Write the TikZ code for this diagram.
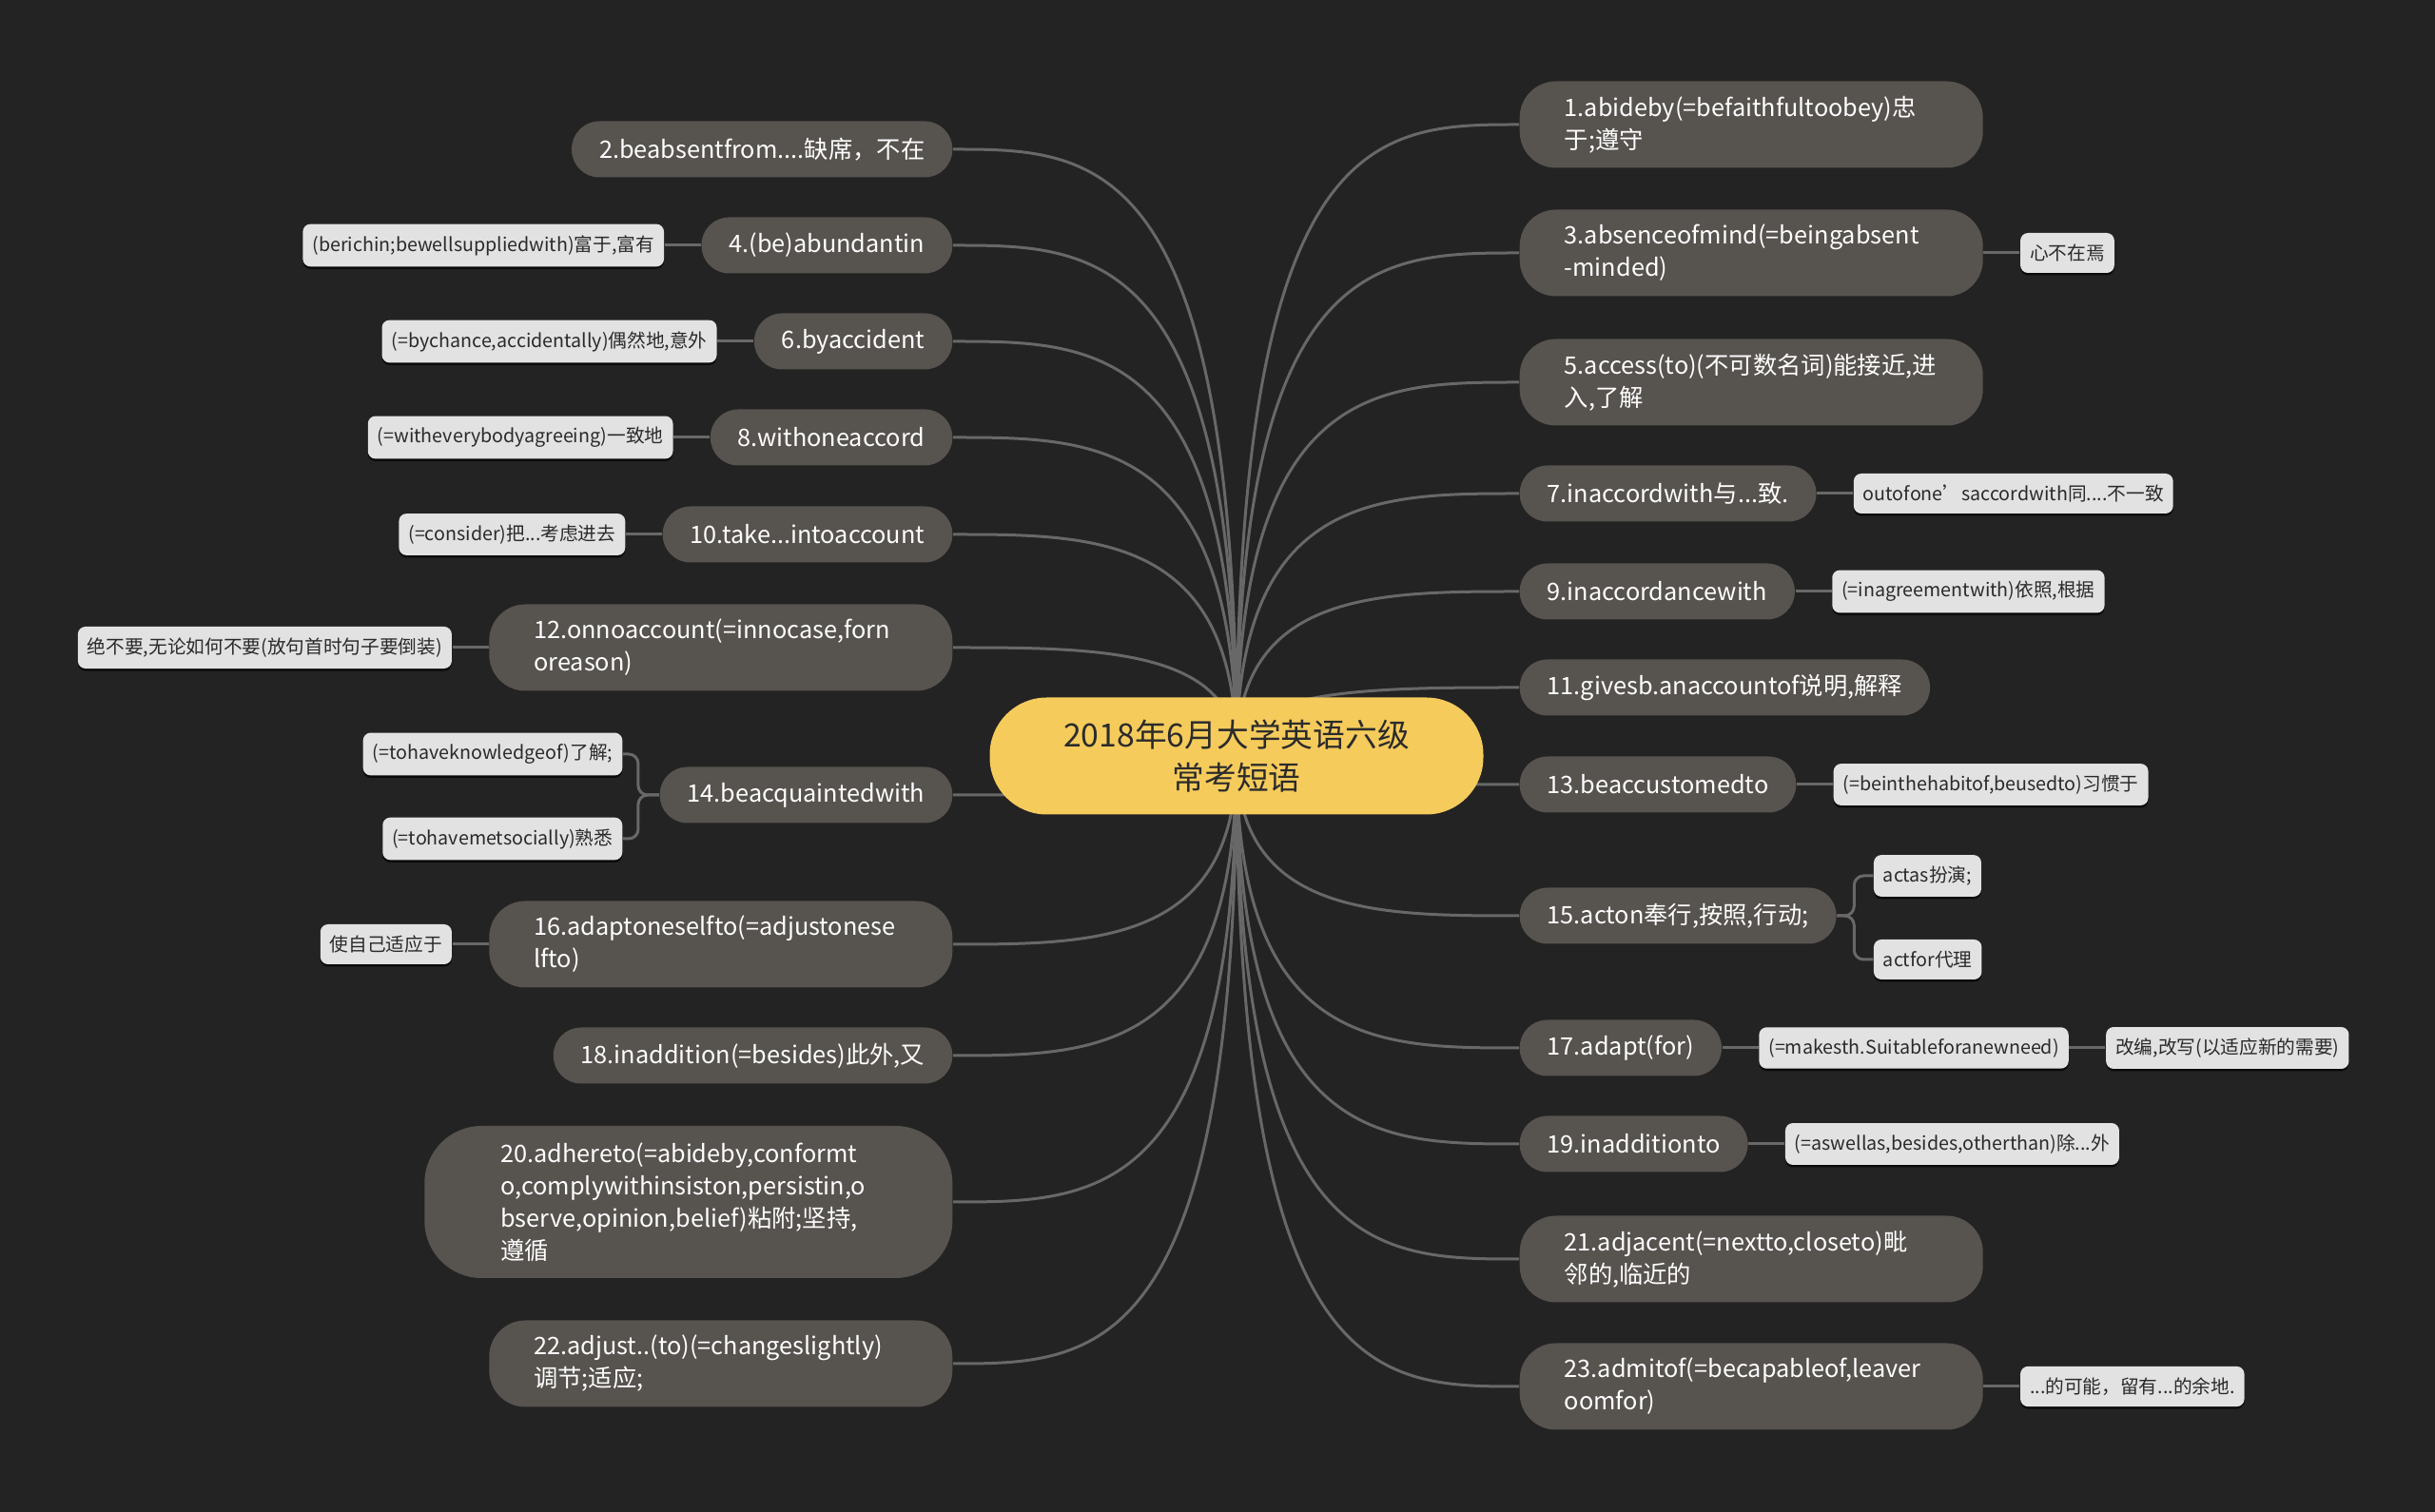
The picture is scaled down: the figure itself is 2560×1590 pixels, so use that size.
\documentclass[tikz,border=0pt]{standalone}
\usepackage{fontspec}
\setmainfont{Noto Sans CJK SC}
\usetikzlibrary{
    positioning,
    calc,
    shadows
}
\definecolor{MapBack}{HTML}{232323}
\definecolor{HubGold}{HTML}{F5CB5C}
\definecolor{HubInk}{HTML}{2B2B2B}
\definecolor{PhraseGray}{HTML}{57534F}
\definecolor{GlossGray}{HTML}{E2E2E2}
\definecolor{GlossInk}{HTML}{2A2A2A}
\definecolor{LinkGray}{HTML}{686868}
\pgfdeclarelayer{backdrop}
\pgfdeclarelayer{links}
\pgfsetlayers{backdrop,links,main}
\tikzset{
  hub/.style        = {fill=HubGold, text=HubInk, rounded corners=6mm,
                       minimum width=51.9mm, minimum height=12.3mm, align=center,
                       font=\fontsize{9.6pt}{13pt}\selectfont},
  phrase/.style     = {fill=PhraseGray, text=white, rounded corners=2.9mm,
                       minimum height=5.9mm, inner xsep=2.9mm,
                       font=\fontsize{7.2pt}{9.7pt}\selectfont},
  longphrase/.style = {phrase, rounded corners=3.8mm, minimum height=9.1mm,
                       inner xsep=4.7mm, text width=39.3mm, align=left},
  gloss/.style      = {fill=GlossGray, text=GlossInk, rounded corners=0.8mm,
                       minimum height=4.2mm, inner xsep=1mm,
                       drop shadow={shadow xshift=0mm, shadow yshift=-0.25mm,
                                    fill=black, opacity=0.7},
                       font=\fontsize{5.6pt}{6.5pt}\selectfont},
  spoke/.style      = {draw=LinkGray, line width=0.3mm,
                       to path={.. controls (\tikztostart |- \tikztotarget)
                         and ($(\tikztostart |- \tikztotarget)!0.5!(\tikztotarget)$)
                         .. (\tikztotarget)}},
  twig/.style       = {draw=LinkGray, line width=0.3mm, rounded corners=1mm}
}

\begin{document}
\begin{tikzpicture}[x=0.1mm, y=-0.1mm, node distance=3.8mm]
\begin{pgfonlayer}{backdrop}
\fill[MapBack] (0,0) rectangle (2560,1590);
\end{pgfonlayer}
\useasboundingbox (0,0) rectangle (2560,1590);

% centre
\node[hub] (hub) at (1300,795) {2018年6月大学英语六级\\常考短语};

% left side
\node[phrase, anchor=east] (p2) at (1002,157) {2.beabsentfrom....缺席，不在};
\node[phrase, anchor=east] (p4) at (1002,258) {4.(be)abundantin};
\node[phrase, anchor=east] (p6) at (1002,359) {6.byaccident};
\node[phrase, anchor=east] (p8) at (1002,460) {8.withoneaccord};
\node[phrase, anchor=east] (p10) at (1002,562) {10.take...intoaccount};
\node[longphrase, anchor=east] (p12) at (1002,681) {12.onnoaccount(=innocase,forn\\oreason)};
\node[phrase, anchor=east] (p14) at (1002,836) {14.beacquaintedwith};
\node[longphrase, anchor=east] (p16) at (1002,993) {16.adaptoneselfto(=adjustonese\\lfto)};
\node[phrase, anchor=east] (p18) at (1002,1110) {18.inaddition(=besides)此外,又};
\node[longphrase, anchor=east, rounded corners=6mm, minimum height=16mm, inner xsep=8mm, text width=39.5mm]
    (p20) at (1002,1264) {20.adhereto(=abideby,conformt\\o,complywithinsiston,persistin,o\\bserve,opinion,belief)粘附;坚持,\\遵循};
\node[longphrase, anchor=east] (p22) at (1002,1434) {22.adjust..(to)(=changeslightly)\\调节;适应;};

\node[gloss, left=of p4] (g4) {(berichin;bewellsuppliedwith)富于,富有};
\node[gloss, left=of p6] (g6) {(=bychance,accidentally)偶然地,意外};
\node[gloss, left=of p8] (g8) {(=witheverybodyagreeing)一致地};
\node[gloss, left=of p10] (g10) {(=consider)把...考虑进去};
\node[gloss, left=of p12] (g12) {绝不要,无论如何不要(放句首时句子要倒装)};
\node[gloss, left=of p14, yshift=4.3mm] (g14a) {(=tohaveknowledgeof)了解;};
\node[gloss, left=of p14, yshift=-4.6mm] (g14b) {(=tohavemetsocially)熟悉};
\node[gloss, left=of p16] (g16) {使自己适应于};

% right side
\node[longphrase, anchor=west] (p1) at (1597,131) {1.abideby(=befaithfultoobey)忠\\于;遵守};
\node[longphrase, anchor=west] (p3) at (1597,266) {3.absenceofmind(=beingabsent\\-minded)};
\node[longphrase, anchor=west] (p5) at (1597,402) {5.access(to)(不可数名词)能接近,进\\入,了解};
\node[phrase, anchor=west] (p7) at (1597,519) {7.inaccordwith与...致.};
\node[phrase, anchor=west] (p9) at (1597,622) {9.inaccordancewith};
\node[phrase, anchor=west] (p11) at (1597,723) {11.givesb.anaccountof说明,解释};
\node[phrase, anchor=west] (p13) at (1597,825) {13.beaccustomedto};
\node[phrase, anchor=west] (p15) at (1597,963) {15.acton奉行,按照,行动;};
\node[phrase, anchor=west] (p17) at (1597,1102) {17.adapt(for)};
\node[phrase, anchor=west] (p19) at (1597,1203) {19.inadditionto};
\node[longphrase, anchor=west] (p21) at (1597,1324) {21.adjacent(=nextto,closeto)毗\\邻的,临近的};
\node[longphrase, anchor=west] (p23) at (1597,1458) {23.admitof(=becapableof,leaver\\oomfor)};

\node[gloss, right=of p3] (g3) {心不在焉};
\node[gloss, right=of p7] (g7) {outofone’saccordwith同....不一致};
\node[gloss, right=of p9] (g9) {(=inagreementwith)依照,根据};
\node[gloss, right=of p13] (g13) {(=beinthehabitof,beusedto)习惯于};
\node[gloss, right=of p15, yshift=4.2mm] (g15a) {actas扮演;};
\node[gloss, right=of p15, yshift=-4.6mm] (g15b) {actfor代理};
\node[gloss, right=of p17] (g17a) {(=makesth.Suitableforanewneed)};
\node[gloss, right=of g17a] (g17b) {改编,改写(以适应新的需要)};
\node[gloss, right=of p19] (g19) {(=aswellas,besides,otherthan)除...外};
\node[gloss, right=of p23] (g23) {...的可能，留有...的余地.};

\begin{pgfonlayer}{links}
% centre to phrases
\draw[spoke] (hub.center) to (p2.east);
\draw[spoke] (hub.center) to (p4.east);
\draw[spoke] (hub.center) to (p6.east);
\draw[spoke] (hub.center) to (p8.east);
\draw[spoke] (hub.center) to (p10.east);
\draw[spoke] (hub.center) to (p12.east);
\draw[spoke] (hub.center) to (p14.east);
\draw[spoke] (hub.center) to (p16.east);
\draw[spoke] (hub.center) to (p18.east);
\draw[spoke] (hub.center) to (p20.east);
\draw[spoke] (hub.center) to (p22.east);
\draw[spoke] (hub.center) to (p1.west);
\draw[spoke] (hub.center) to (p3.west);
\draw[spoke] (hub.center) to (p5.west);
\draw[spoke] (hub.center) to (p7.west);
\draw[spoke] (hub.center) to (p9.west);
\draw[spoke] (hub.center) to (p11.west);
\draw[spoke] (hub.center) to (p13.west);
\draw[spoke] (hub.center) to (p15.west);
\draw[spoke] (hub.center) to (p17.west);
\draw[spoke] (hub.center) to (p19.west);
\draw[spoke] (hub.center) to (p21.west);
\draw[spoke] (hub.center) to (p23.west);
% phrases to glosses
\draw[twig] (p4) -- (g4);
\draw[twig] (p6) -- (g6);
\draw[twig] (p8) -- (g8);
\draw[twig] (p10) -- (g10);
\draw[twig] (p12) -- (g12);
\draw[twig] (p14.west) -- ++(-22,0) |- (g14a.east);
\draw[twig] (p14.west) -- ++(-22,0) |- (g14b.east);
\draw[twig] (p16) -- (g16);
\draw[twig] (p3) -- (g3);
\draw[twig] (p7) -- (g7);
\draw[twig] (p9) -- (g9);
\draw[twig] (p13) -- (g13);
\draw[twig] (p15.east) -- ++(18,0) |- (g15a.west);
\draw[twig] (p15.east) -- ++(18,0) |- (g15b.west);
\draw[twig] (p17) -- (g17a);
\draw[twig] (g17a) -- (g17b);
\draw[twig] (p19) -- (g19);
\draw[twig] (p23) -- (g23);
\end{pgfonlayer}
\end{tikzpicture}
\end{document}
